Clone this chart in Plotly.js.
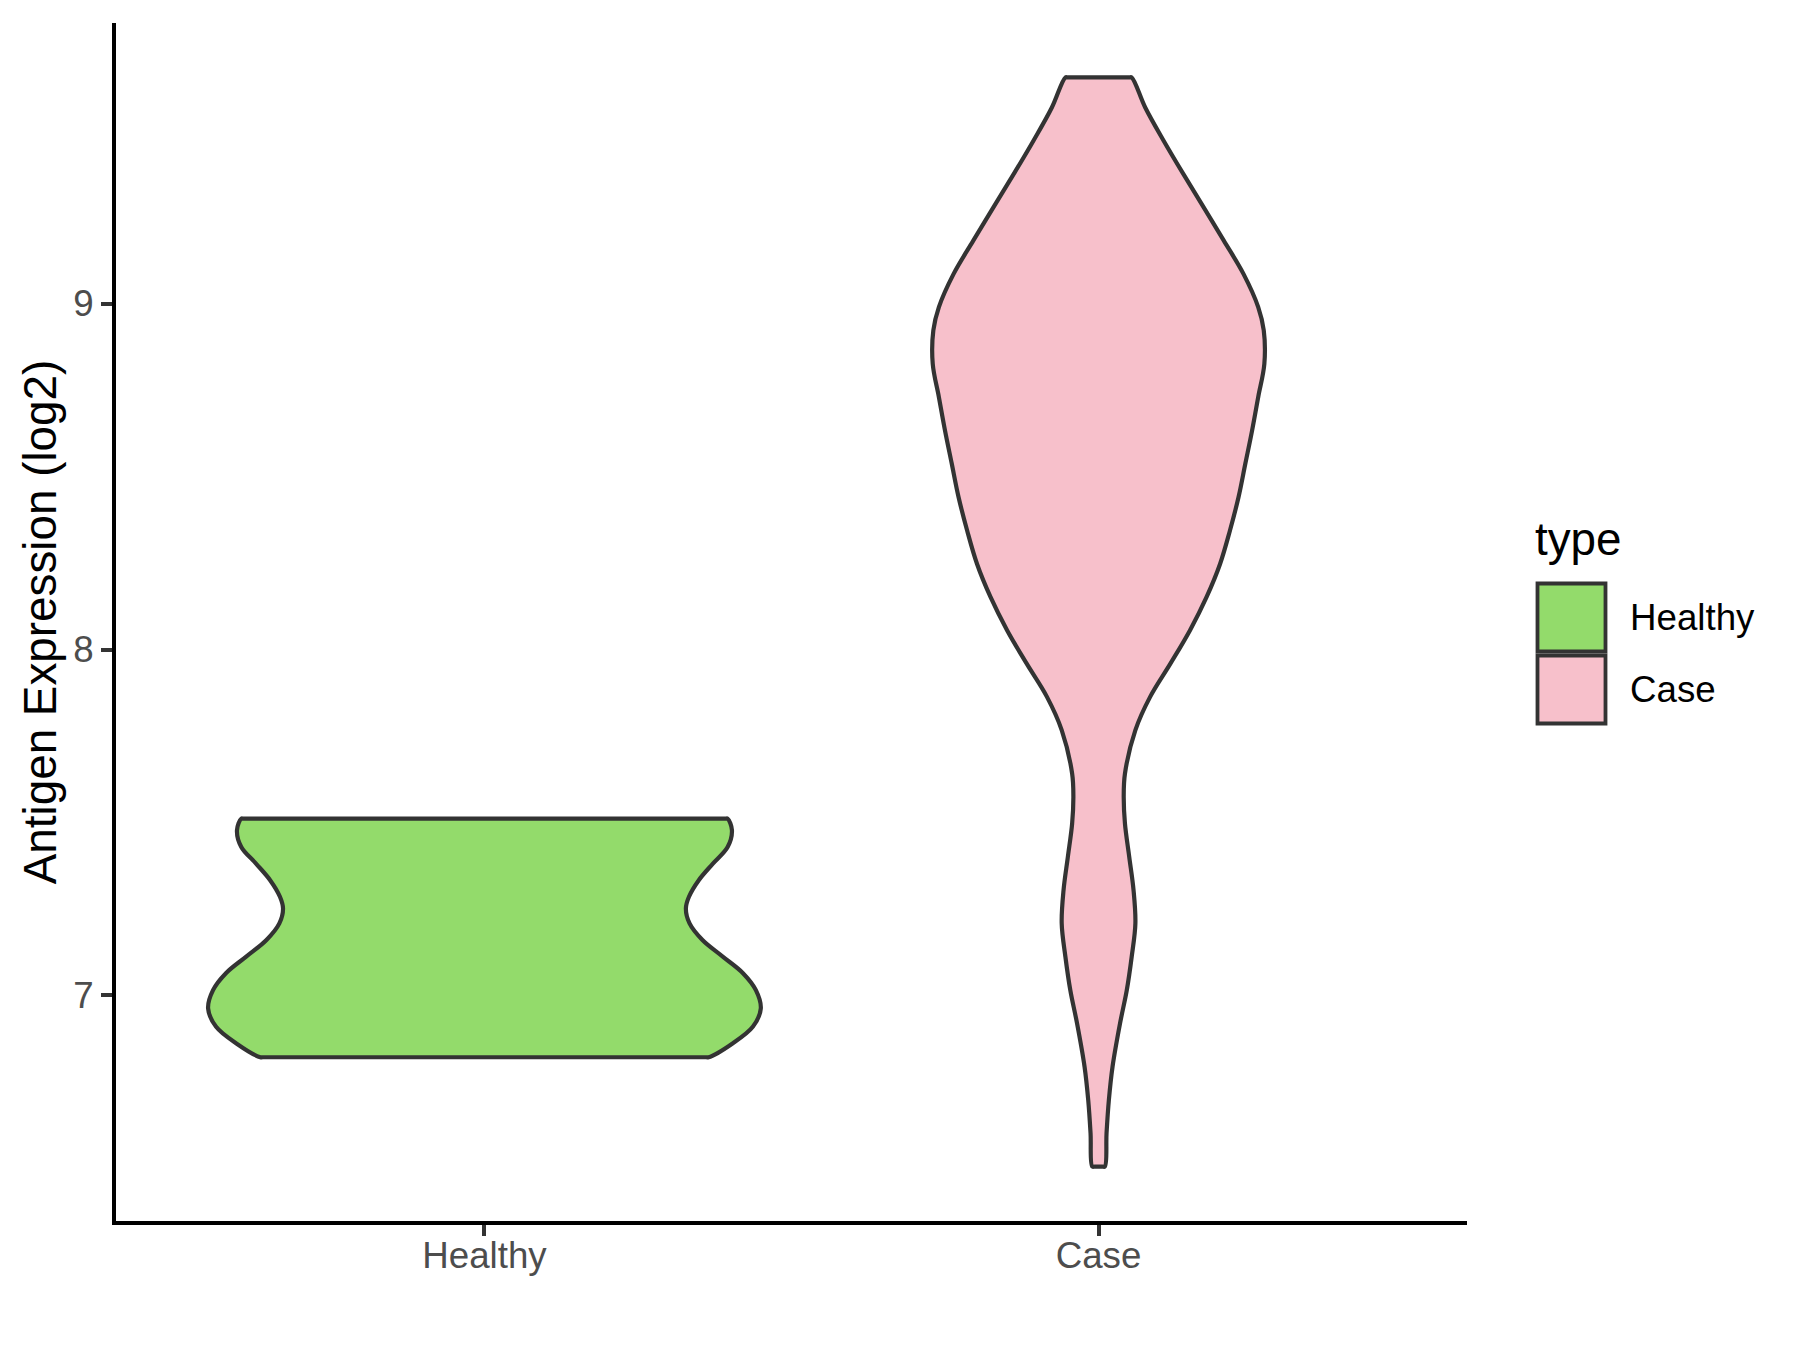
<!DOCTYPE html>
<html>
<head>
<meta charset="utf-8">
<script src="https://cdn.plot.ly/plotly-3.0.1.min.js"></script>
<style>html,body{margin:0;padding:0;background:#fff;}#chart{width:1800px;height:1350px;}</style>
</head>
<body>
<div id="chart"></div>
<script>
// ---- data ----
const categories = ["Healthy", "Case"];
const fillColors = ["#93DB6B", "#F7C0CB"];

// Healthy violin: density outline (value on y, half-width in category units)
const healthyY  = [7.511, 7.478, 7.429, 7.381, 7.333, 7.285, 7.251, 7.208, 7.160, 7.112, 7.064, 7.015, 6.962, 6.909, 6.861, 6.821];
const healthyHW = [0.396, 0.403, 0.396, 0.372, 0.349, 0.333, 0.328, 0.334, 0.355, 0.388, 0.421, 0.442, 0.450, 0.437, 0.404, 0.365];

// Case violin
const caseY  = [9.654, 9.567, 9.471, 9.375, 9.279, 9.182, 9.086, 8.990, 8.923, 8.826, 8.730, 8.633, 8.537, 8.441, 8.344, 8.248, 8.152, 8.056, 7.959, 7.863, 7.767, 7.641, 7.574, 7.497, 7.400, 7.304, 7.208, 7.112, 7.015, 6.919, 6.794, 6.697, 6.601, 6.505];
const caseHW = [0.054, 0.076, 0.106, 0.138, 0.171, 0.204, 0.236, 0.260, 0.269, 0.270, 0.260, 0.250, 0.239, 0.228, 0.214, 0.198, 0.176, 0.149, 0.117, 0.084, 0.060, 0.043, 0.041, 0.043, 0.050, 0.057, 0.060, 0.054, 0.046, 0.035, 0.0228, 0.0168, 0.013, 0.0103];

const yTicks = [7, 8, 9];
const yTitle = "Antigen Expression (log2)";
const legendTitle = "type";

// ---- build violin outlines ----
function violin(center, ys, hws, color, name) {
  const n = ys.length, e = 0.004;
  const x = [], y = [];
  for (let i = 0; i < n; i++) { x.push(center + hws[i]); y.push(ys[i]); }
  x.push(center + hws[n-1] - e, center - hws[n-1] + e); y.push(ys[n-1], ys[n-1]);
  for (let i = n - 1; i >= 0; i--) { x.push(center - hws[i]); y.push(ys[i]); }
  x.push(center - hws[0] + e, center + hws[0] - e, center + hws[0]); y.push(ys[0], ys[0], ys[0]);
  return {
    type: "scatter", mode: "lines", x: x, y: y, name: name,
    fill: "toself", fillcolor: color,
    line: {color: "#333333", width: 4.2, shape: "spline", smoothing: 1},
    hoverinfo: "name", showlegend: false
  };
}

const traces = [
  violin(1, healthyY, healthyHW, fillColors[0], categories[0]),
  violin(2, caseY, caseHW, fillColors[1], categories[1])
];

// y range: data range expanded 5% each side (ggplot default)
const allY = healthyY.concat(caseY);
const yMin = Math.min(...allY), yMax = Math.max(...allY), ySpan = yMax - yMin;
const yRange = [yMin - 0.05 * ySpan, yMax + 0.05 * ySpan];

// ---- layout ----
const W = 1800, H = 1350;
const M = {l: 116, r: 333, t: 23, b: 129};
const PW = W - M.l - M.r, PH = H - M.t - M.b;
const px2x = p => (p - M.l) / PW;
const py2y = p => (H - M.b - p) / PH;
const FONT = "Liberation Sans, Arial, sans-serif";

const keyRows = [{top: 583.5, bottom: 651.5, mid: 617.5}, {top: 655.5, bottom: 723.5, mid: 689.5}];
const shapes = keyRows.map((r, i) => ({
  type: "rect", xref: "paper", yref: "paper",
  x0: px2x(1537.5), x1: px2x(1605.5), y0: py2y(r.bottom), y1: py2y(r.top),
  fillcolor: fillColors[i], line: {color: "#333333", width: 3.8}
}));
const annotations = [
  {text: legendTitle, xref: "paper", yref: "paper", x: px2x(1533), y: py2y(539),
   xanchor: "left", yanchor: "middle", showarrow: false, font: {family: FONT, size: 45.8, color: "#000000"}}
].concat(keyRows.map((r, i) => ({
  text: categories[i], xref: "paper", yref: "paper", x: px2x(1628), y: py2y(r.mid),
  xanchor: "left", yanchor: "middle", showarrow: false, font: {family: FONT, size: 36.7, color: "#000000"}
})));

const layout = {
  width: W, height: H, margin: M,
  paper_bgcolor: "#ffffff", plot_bgcolor: "#ffffff",
  font: {family: FONT},
  showlegend: false,
  xaxis: {
    range: [0.4, 2.6], tickvals: [1, 2], ticktext: categories,
    showline: true, linecolor: "#000000", linewidth: 4,
    ticks: "outside", ticklen: 11, tickwidth: 4, tickcolor: "#333333",
    ticklabelstandoff: -12,
    tickfont: {family: FONT, size: 36.7, color: "#4D4D4D"},
    showgrid: false, zeroline: false, automargin: false, fixedrange: true
  },
  yaxis: {
    range: yRange, tickvals: yTicks,
    showline: true, linecolor: "#000000", linewidth: 4,
    ticks: "outside", ticklen: 11, tickwidth: 4, tickcolor: "#333333",
    tickfont: {family: FONT, size: 36.7, color: "#4D4D4D"},
    title: {text: yTitle, font: {family: FONT, size: 45.8, color: "#000000"}, standoff: 3},
    showgrid: false, zeroline: false, automargin: false, fixedrange: true
  },
  shapes: shapes,
  annotations: annotations
};

Plotly.newPlot("chart", traces, layout, {displayModeBar: false, staticPlot: true});
</script>
</body>
</html>
